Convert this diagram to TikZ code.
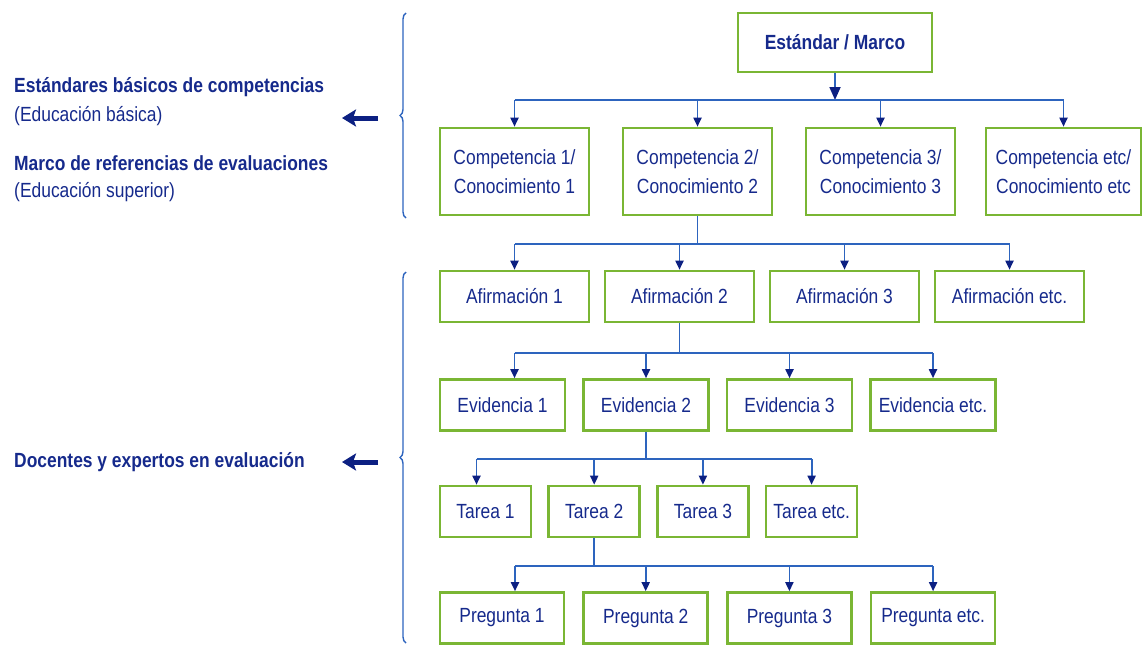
\documentclass[tikz,border=0pt]{standalone}
\usepackage{fontspec}
\setmainfont{Liberation Sans}[FakeStretch=0.85]
\usetikzlibrary{arrows.meta,decorations.pathreplacing}

\definecolor{boxgreen}{RGB}{122,182,52}
\definecolor{textblue}{RGB}{22,42,140}
\definecolor{linkblue}{RGB}{45,100,190}
\definecolor{tipblue}{RGB}{12,32,130}

\tikzset{
  txt/.style = {font=\fontsize{20.5}{29}\selectfont},
  bold/.style = {font=\fontsize{20.5}{29}\selectfont\bfseries},
  box/.style = {draw=boxgreen, line width=2.6pt, text=textblue, align=center, inner sep=0pt, minimum height=51pt, txt},
  comp/.style = {box, minimum width=149pt, minimum height=87pt, node distance=183pt},
  afirm/.style = {box, minimum width=149pt, node distance=165pt},
  evid/.style = {box, minimum width=125pt, node distance=143.5pt},
  tarea/.style = {box, minimum width=91pt, node distance=108.7pt},
  preg/.style = {box, minimum width=124pt, node distance=143.7pt},
  link/.style = {draw=linkblue, line width=1.8pt},
  drop/.style = {link, -{Triangle[length=9pt, width=8pt, color=tipblue]}},
  side/.style = {text=textblue, anchor=west, inner sep=0pt, txt},
  curly/.style = {draw=linkblue, line width=1.4pt, decorate, decoration={brace, amplitude=6pt}},
  back/.style = {draw=tipblue, line width=5pt, -{Stealth[length=14pt, width=17pt, inset=3pt]}}
}

\begin{document}
\begin{tikzpicture}[x=1pt, y=-1pt]
  \useasboundingbox (0,0) rectangle (1142,645);

  % levels of the buses
  \coordinate (b1) at (0,100);
  \coordinate (b2) at (0,244);
  \coordinate (b3) at (0,353);
  \coordinate (b4) at (0,459);
  \coordinate (b5) at (0,566);

  \node[box, bold, minimum width=194pt, minimum height=59pt] (top) at (835,42.5) {Estándar / Marco};

  \node[comp] (c1) at (514.5,171.5) {Competencia 1/\\Conocimiento 1};
  \node[comp] (c2) [right of=c1] {Competencia 2/\\Conocimiento 2};
  \node[comp] (c3) [right of=c2] {Competencia 3/\\Conocimiento 3};
  \node[comp, minimum width=155pt] (c4) [right of=c3] {Competencia etc/\\Conocimiento etc};

  \node[afirm] (a1) at (514.5,296.5) {Afirmación 1};
  \node[afirm] (a2) [right of=a1] {Afirmación 2};
  \node[afirm] (a3) [right of=a2] {Afirmación 3};
  \node[afirm] (a4) [right of=a3] {Afirmación etc.};

  \node[evid] (e1) at (502.5,405) {Evidencia 1};
  \node[evid] (e2) [right of=e1] {Evidencia 2};
  \node[evid] (e3) [right of=e2] {Evidencia 3};
  \node[evid] (e4) [right of=e3] {Evidencia etc.};

  \node[tarea] (t1) at (485.5,511.5) {Tarea 1};
  \node[tarea] (t2) [right of=t1] {Tarea 2};
  \node[tarea] (t3) [right of=t2] {Tarea 3};
  \node[tarea] (t4) [right of=t3] {Tarea etc.};

  \node[preg] (p1) at (502,618) {Pregunta 1};
  \node[preg] (p2) [right of=p1] {Pregunta 2};
  \node[preg] (p3) [right of=p2] {Pregunta 3};
  \node[preg] (p4) [right of=p3] {Pregunta etc.};

  % Estandar -> competencias
  \draw[link, -{Triangle[length=13pt, width=11pt, color=tipblue]}] (top.south) -- (top.south |- b1);
  \draw[link] (c1.north |- b1) -- (c4.north |- b1);
  \draw[drop] (c1.north |- b1) -- (c1.north);
  \draw[drop] (c2.north |- b1) -- (c2.north);
  \draw[drop] (c3.north |- b1) -- (c3.north);
  \draw[drop] (c4.north |- b1) -- (c4.north);

  % competencia 2 -> afirmaciones
  \draw[link] (c2.south) -- (c2.south |- b2);
  \draw[link] (a1.north |- b2) -- (a4.north |- b2);
  \draw[drop] (a1.north |- b2) -- (a1.north);
  \draw[drop] (a2.north |- b2) -- (a2.north);
  \draw[drop] (a3.north |- b2) -- (a3.north);
  \draw[drop] (a4.north |- b2) -- (a4.north);

  % afirmacion 2 -> evidencias
  \draw[link] (a2.south) -- (a2.south |- b3);
  \draw[link] ([xshift=12pt]e1.north |- b3) -- (e4.north |- b3);
  \draw[drop] ([xshift=12pt]e1.north |- b3) -- ([xshift=12pt]e1.north);
  \draw[drop] (e2.north |- b3) -- (e2.north);
  \draw[drop] (e3.north |- b3) -- (e3.north);
  \draw[drop] (e4.north |- b3) -- (e4.north);

  % evidencia 2 -> tareas
  \draw[link] (e2.south) -- (e2.south |- b4);
  \draw[link] ([xshift=-9pt]t1.north |- b4) -- (t4.north |- b4);
  \draw[drop] ([xshift=-9pt]t1.north |- b4) -- ([xshift=-9pt]t1.north);
  \draw[drop] (t2.north |- b4) -- (t2.north);
  \draw[drop] (t3.north |- b4) -- (t3.north);
  \draw[drop] (t4.north |- b4) -- (t4.north);

  % tarea 2 -> preguntas
  \draw[link] (t2.south) -- (t2.south |- b5);
  \draw[link] ([xshift=13pt]p1.north |- b5) -- (p4.north |- b5);
  \draw[drop] ([xshift=13pt]p1.north |- b5) -- ([xshift=13pt]p1.north);
  \draw[drop] (p2.north |- b5) -- (p2.north);
  \draw[drop] (p3.north |- b5) -- (p3.north);
  \draw[drop] (p4.north |- b5) -- (p4.north);

  % who writes each part
  \draw[curly] (406,218) -- (406,13);
  \draw[curly] (406,643) -- (406,272);
  \coordinate (hi) at (378,118);
  \coordinate (lo) at (378,462);
  \draw[back] (hi) -- ++(-36,0);
  \draw[back] (lo) -- ++(-36,0);

  \node[side, bold] (est) at (14,87) {Estándares básicos de competencias};
  \node[side] (estsub) at (14,116) {(Educación básica)};
  \node[side, bold] (mar) at (14,163) {Marco de referencias de evaluaciones};
  \node[side] (marsub) at (14,192) {(Educación superior)};
  \node[side, bold] (doc) at (14,462) {Docentes y expertos en evaluación};
\end{tikzpicture}
\end{document}
